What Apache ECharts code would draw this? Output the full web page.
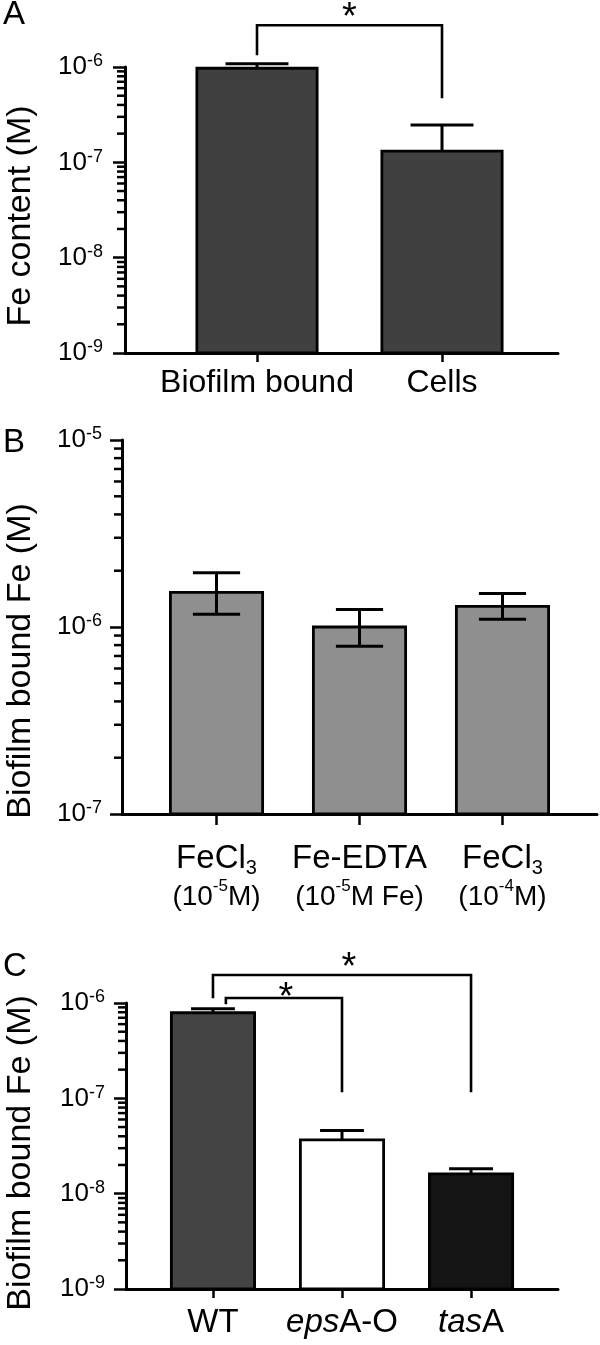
<!DOCTYPE html>
<html><head><meta charset="utf-8">
<script src="https://cdn.jsdelivr.net/npm/echarts@6/dist/echarts.min.js"></script>
<style>html,body{margin:0;padding:0;background:#fff}#c{width:600px;height:1345px}</style>
</head><body><div id="c"></div>
<script>
const FONT = '"Liberation Sans", Arial, Helvetica, sans-serif';

// ---------- Panel A ----------
const catsA = ['Biofilm bound', 'Cells'];
const valsA = [0.97e-6, 1.31e-7];
const errHiA = [1.08e-6, 2.47e-7];
const colorsA = ['#404040', '#404040'];
const yTicksA = [1e-9, 1e-8, 1e-7, 1e-6];
const titleA = 'Fe content (M)';
// [fromIdx, toIdx, topY, leftEndY, rightEndY, starX, starY]
const bracketsA = [[0, 1, 2.74e-6, 1.33e-6, 4.7e-7, 0.5, 4.0e-6]];

// ---------- Panel B ----------
const catsBName = ['FeCl', 'Fe-EDTA', 'FeCl'];
const catsBSub = ['3', '', '3'];
const catsBExp = ['-5', '-5', '-4'];
const catsBSuffix = ['M)', 'M Fe)', 'M)'];
const valsB = [1.53e-6, 1.0e-6, 1.29e-6];
const errHiB = [1.95e-6, 1.24e-6, 1.51e-6];
const errLoB = [1.17e-6, 0.79e-6, 1.10e-6];
const colorsB = ['#8f8f8f', '#8f8f8f', '#8f8f8f'];
const yTicksB = [1e-7, 1e-6, 1e-5];
const titleB = 'Biofilm bound Fe (M)';

// ---------- Panel C ----------
const catsCItalic = ['', 'eps', 'tas'];
const catsCRest = ['WT', 'A-O', 'A'];
const valsC = [0.79e-6, 3.67e-8, 1.61e-8];
const errHiC = [0.87e-6, 4.6e-8, 1.82e-8];
const colorsC = ['#444444', '#ffffff', '#141414'];
const yTicksC = [1e-9, 1e-8, 1e-7, 1e-6];
const titleC = 'Biofilm bound Fe (M)';
const bracketsC = [
  [0, 2, 1.97e-6, 1.12e-6, 1.16e-7, 1.054, 2.80e-6],
  [0.1, 1, 1.13e-6, 0.97e-6, 1.16e-7, 0.566, 1.37e-6]
];

const panelLetters = ['A', 'B', 'C'];

// x-axis extents (category index units)
const xExtA = [-0.7135, 1.627];
const xExtB = [-0.661, 2.661];
const xExtC = [-0.674, 2.674];

function minorTicks(decades) {
  const out = [];
  for (let i = 0; i < decades.length - 1; i++) {
    for (let m = 2; m <= 9; m++) out.push(m * decades[i]);
  }
  return out;
}

const yLabelRich = {
  b: { fontSize: 26, fontFamily: FONT, color: '#000', lineHeight: 29 },
  s: { fontSize: 18, fontFamily: FONT, color: '#000', lineHeight: 20, verticalAlign: 'top' }
};
function yFmt(v) { return '{b|10}{s|' + Math.round(Math.log10(v)) + '}'; }

function yAxisFor(k, ticks, labelMargin) {
  return {
    type: 'log', logBase: 10, gridIndex: k, min: ticks[0], max: ticks[ticks.length - 1], position: 'left',
    axisLine: { show: true, onZero: false, lineStyle: { color: '#000', width: 3 } },
    axisTick: { show: true, customValues: ticks, length: 12, lineStyle: { color: '#000', width: 2.5 } },
    axisLabel: { show: true, customValues: ticks, formatter: yFmt, rich: yLabelRich, margin: labelMargin,
      fontSize: 26, fontFamily: FONT, color: '#000' },
    splitLine: { show: false }, minorTick: { show: false }
  };
}

function xAxisFor(k, n, ext, tickLen, formatter, rich, margin, fontSize) {
  const idx = [];
  for (let i = 0; i < n; i++) idx.push(i);
  return {
    type: 'value', gridIndex: k, min: ext[0], max: ext[1], position: 'bottom',
    axisLine: { show: true, onZero: false, lineStyle: { color: '#000', width: 3 } },
    axisTick: { show: true, customValues: idx, length: tickLen, lineStyle: { color: '#000', width: 2.5 } },
    axisLabel: { show: true, customValues: idx, formatter: formatter, rich: rich, margin: margin,
      fontSize: fontSize, fontFamily: FONT, color: '#000' },
    splitLine: { show: false }
  };
}

function minorTickSeries(k, ticks, ext, len) {
  return {
    type: 'custom', xAxisIndex: k, yAxisIndex: k, clip: false, silent: true, z: 5,
    data: minorTicks(ticks).map(v => [ext[0], v]),
    renderItem: function (params, api) {
      const p = api.coord([api.value(0), api.value(1)]);
      return { type: 'line', shape: { x1: p[0] - len, y1: p[1], x2: p[0], y2: p[1] },
        style: { stroke: '#000', lineWidth: 2.5 } };
    }
  };
}

function barSeries(k, vals, colors, yMin, frac) {
  return {
    type: 'custom', xAxisIndex: k, yAxisIndex: k, clip: false, silent: true, z: 2,
    data: vals.map((v, i) => [i, v]),
    renderItem: function (params, api) {
      const i = api.value(0), v = api.value(1);
      const p = api.coord([i, v]);
      const b = api.coord([i, yMin]);
      const w = (api.coord([i + 1, v])[0] - p[0]) * frac;
      return { type: 'rect', shape: { x: p[0] - w / 2, y: p[1], width: w, height: b[1] - p[1] },
        style: { fill: colors[i], stroke: '#000', lineWidth: 2.8 } };
    }
  };
}

function errSeries(k, vals, hi, lo, capFrac) {
  return {
    type: 'custom', xAxisIndex: k, yAxisIndex: k, clip: false, silent: true, z: 3,
    data: vals.map((v, i) => [i, v, hi[i], lo ? lo[i] : v]),
    renderItem: function (params, api) {
      const i = api.value(0);
      const t = api.coord([i, api.value(2)]);
      const b = api.coord([i, api.value(3)]);
      const half = (api.coord([i + 1, api.value(2)])[0] - t[0]) * capFrac;
      const st = { stroke: '#000', lineWidth: 3 };
      const ch = [
        { type: 'line', shape: { x1: t[0], y1: t[1], x2: b[0], y2: b[1] }, style: st },
        { type: 'line', shape: { x1: t[0] - half, y1: t[1], x2: t[0] + half, y2: t[1] }, style: st }
      ];
      if (lo) ch.push({ type: 'line', shape: { x1: b[0] - half, y1: b[1], x2: b[0] + half, y2: b[1] }, style: st });
      return { type: 'group', children: ch };
    }
  };
}

function bracketSeries(k, brackets) {
  return {
    type: 'custom', xAxisIndex: k, yAxisIndex: k, clip: false, silent: true, z: 4,
    data: brackets,
    renderItem: function (params, api) {
      const x1 = api.value(0), x2 = api.value(1), top = api.value(2), l = api.value(3), r = api.value(4);
      const p1 = api.coord([x1, l]), p2 = api.coord([x1, top]), p3 = api.coord([x2, top]), p4 = api.coord([x2, r]);
      const s = api.coord([api.value(5), api.value(6)]);
      const fs = 38;
      return { type: 'group', children: [
        { type: 'polyline', shape: { points: [p1, p2, p3, p4] }, style: { stroke: '#000', lineWidth: 2.6, fill: null } },
        { type: 'text', x: s[0], y: s[1] + 0.227 * fs,
          style: { text: '*', fontSize: fs, fontFamily: FONT, fill: '#000', align: 'center', verticalAlign: 'middle' } }
      ] };
    }
  };
}

function vTitle(text, cx, cy) {
  return { type: 'text', x: cx, y: cy, rotation: Math.PI / 2,
    style: { text: text, fontSize: 34, fontFamily: FONT, fill: '#000', align: 'center', verticalAlign: 'middle' } };
}
function letter(text, y) {
  return { type: 'text', x: 3, y: y, style: { text: text, fontSize: 33, fontFamily: FONT, fill: '#000', verticalAlign: 'middle' } };
}

const option = {
  animation: false,
  backgroundColor: '#fff',
  grid: [
    { left: 125, top: 67, width: 433, height: 286 },
    { left: 122, top: 440, width: 475, height: 374 },
    { left: 126, top: 1003, width: 432, height: 286 }
  ],
  xAxis: [
    xAxisFor(0, catsA.length, xExtA, 9, v => catsA[Math.round(v)], null, 14, 32),
    xAxisFor(1, catsBName.length, xExtB, 11, v => {
      const i = Math.round(v);
      return '{n|' + catsBName[i] + '}' + (catsBSub[i] ? '{sub|' + catsBSub[i] + '}' : '') +
        '\n{p|(10}{sup|' + catsBExp[i] + '}{p|' + catsBSuffix[i] + '}';
    }, {
      n: { fontSize: 33, fontFamily: FONT, color: '#000', lineHeight: 38 },
      sub: { fontSize: 20, fontFamily: FONT, color: '#000', lineHeight: 29, verticalAlign: 'bottom' },
      p: { fontSize: 28, fontFamily: FONT, color: '#000', lineHeight: 38 },
      sup: { fontSize: 17, fontFamily: FONT, color: '#000', lineHeight: 30, verticalAlign: 'top' }
    }, 26, 33),
    xAxisFor(2, catsCRest.length, xExtC, 9, v => {
      const i = Math.round(v);
      return (catsCItalic[i] ? '{i|' + catsCItalic[i] + '}' : '') + '{n|' + catsCRest[i] + '}';
    }, {
      n: { fontSize: 33, fontFamily: FONT, color: '#000' },
      i: { fontSize: 33, fontFamily: FONT, color: '#000', fontStyle: 'italic' }
    }, 17, 33)
  ],
  yAxis: [
    yAxisFor(0, yTicksA, 22),
    yAxisFor(1, yTicksB, 20),
    yAxisFor(2, yTicksC, 21)
  ],
  series: [
    barSeries(0, valsA, colorsA, yTicksA[0], 0.65),
    errSeries(0, valsA, errHiA, null, 0.17),
    bracketSeries(0, bracketsA),
    minorTickSeries(0, yTicksA, xExtA, 8),
    barSeries(1, valsB, colorsB, yTicksB[0], 0.645),
    errSeries(1, valsB, errHiB, errLoB, 0.165),
    minorTickSeries(1, yTicksB, xExtB, 8),
    barSeries(2, valsC, colorsC, yTicksC[0], 0.645),
    errSeries(2, valsC, errHiC, null, 0.17),
    bracketSeries(2, bracketsC),
    minorTickSeries(2, yTicksC, xExtC, 8)
  ],
  graphic: [
    letter(panelLetters[0], 15),
    letter(panelLetters[1], 443),
    letter(panelLetters[2], 967),
    vTitle(titleA, 21, 216),
    vTitle(titleB, 21, 661),
    vTitle(titleC, 21, 1153)
  ]
};

const chart = echarts.init(document.getElementById('c'), null, { renderer: 'canvas' });
chart.setOption(option);
</script>
</body></html>
